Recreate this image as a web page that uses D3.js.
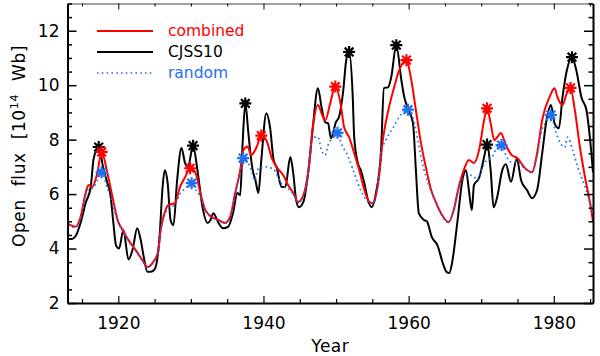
<!DOCTYPE html>
<html><head><meta charset="utf-8">
<script src="https://cdn.jsdelivr.net/npm/d3@7"></script>
<style>html,body{margin:0;padding:0;background:#fff;}svg{display:block;font-family:"DejaVu Sans",sans-serif;}</style>
</head><body><svg id="c" width="600" height="356"></svg>
<script>
// ---- data ----
const cjssYears = [1913.0,1913.6,1914.1,1914.8,1915.5,1916.2,1916.6,1917.3,1917.9,1918.5,1918.9,1919.3,1919.7,1920.1,1920.7,1921.4,1922.0,1922.6,1923.1,1923.5,1924.0,1924.5,1924.9,1925.3,1925.7,1926.1,1926.4,1926.8,1927.2,1927.6,1928.1,1928.7,1929.2,1929.6,1930.3,1930.9,1931.6,1932.3,1932.7,1933.1,1933.8,1934.4,1935.1,1935.8,1936.4,1936.8,1937.1,1937.5,1937.9,1938.2,1938.5,1938.9,1939.3,1939.7,1940.4,1940.9,1941.4,1941.8,1942.5,1943.0,1943.7,1944.1,1944.5,1944.9,1945.5,1946.2,1946.8,1947.5,1948.0,1948.5,1948.9,1949.3,1950.0,1950.4,1951.0,1951.4,1951.8,1952.3,1952.5,1953.0,1953.4,1953.9,1954.4,1954.9,1955.5,1956.2,1956.6,1957.2,1957.6,1958.3,1959.0,1959.4,1960.0,1960.6,1961.0,1961.4,1962.1,1962.5,1963.2,1964.0,1964.7,1965.2,1965.6,1966.0,1966.7,1967.4,1967.9,1968.3,1968.7,1969.0,1969.7,1970.4,1970.8,1971.3,1971.7,1972.2,1972.9,1973.4,1974.1,1974.9,1975.5,1976.3,1977.0,1977.7,1978.4,1979.0,1979.6,1980.1,1980.7,1981.2,1981.8,1982.5,1983.1,1983.8,1984.5,1985.0,1985.4];
const cjssValues = [4.35,4.35,4.45,4.94,5.67,6.26,7.3,7.73,7.0,6.4,6.0,5.0,4.1,4.0,4.68,3.6,4.0,4.75,4.3,3.7,3.15,3.15,3.2,3.5,4.5,6.26,6.88,6.4,5.05,4.86,6.5,7.69,7.14,6.99,7.78,6.88,5.52,4.94,5.05,5.3,4.94,4.75,4.79,5.3,6.04,5.96,7.72,9.33,8.3,7.5,6.9,6.5,6.04,7.25,8.97,8.46,7.25,6.99,6.26,6.26,7.36,6.77,5.78,5.52,5.71,6.88,8.46,9.89,9.19,8.64,8.6,8.05,8.65,8.83,9.82,10.92,11.22,9.56,8.09,7.14,6.88,6.4,5.78,5.52,6.04,7.61,9.89,9.93,10.29,11.47,10.18,9.56,9.08,8.6,6.88,5.3,5.05,5.0,4.42,4.1,3.47,3.15,3.1,3.5,4.94,6.51,6.88,6.15,5.41,6.33,6.59,7.36,7.82,6.88,5.52,5.89,6.88,7.1,6.45,7.3,6.5,6.15,5.85,6.15,7.5,8.72,9.27,8.6,8.42,9.56,10.55,11.03,10.55,9.56,9.08,8.0,6.8];

const combYears = [1913.0,1913.5,1914.1,1914.8,1915.5,1915.9,1916.4,1917.1,1917.7,1918.5,1919.2,1919.9,1920.6,1921.4,1922.4,1923.3,1924.0,1924.8,1925.5,1925.8,1926.5,1926.9,1927.8,1928.5,1929.2,1929.9,1930.6,1931.3,1932.0,1932.9,1933.8,1934.7,1935.4,1936.1,1936.8,1937.2,1937.8,1938.3,1939.0,1939.7,1940.4,1941.1,1941.8,1942.7,1943.4,1944.1,1944.8,1945.5,1946.2,1946.8,1947.5,1948.0,1948.5,1949.2,1949.9,1950.7,1951.1,1951.8,1952.5,1953.2,1953.9,1954.6,1955.1,1955.8,1956.5,1957.2,1957.9,1958.7,1959.7,1960.3,1961.0,1961.7,1962.4,1963.1,1963.8,1964.6,1965.5,1966.2,1966.9,1967.6,1968.3,1969.0,1969.7,1970.4,1970.8,1971.3,1971.8,1972.2,1972.7,1973.4,1974.2,1975.0,1975.9,1977.0,1977.7,1978.4,1979.4,1980.1,1980.5,1981.2,1981.8,1982.3,1982.9,1983.6,1984.3,1985.0,1985.4];
const combValues = [4.9,4.85,4.8,5.16,6.04,6.33,6.26,6.77,7.55,6.77,5.89,5.05,4.68,4.31,3.94,3.58,3.32,3.5,3.9,4.6,5.41,5.6,5.67,6.26,6.62,6.95,6.8,6.04,5.41,5.16,5.05,4.94,5.16,6.04,6.88,7.6,7.75,7.43,7.69,8.15,7.98,7.36,6.99,6.7,6.33,6.04,5.71,5.96,6.88,8.46,9.27,8.97,8.7,9.34,9.95,9.19,8.46,8.09,7.5,6.88,6.15,5.71,5.67,6.4,8.09,9.08,9.82,10.55,10.92,10.29,9.08,7.87,6.95,6.15,5.67,5.23,4.97,5.41,6.26,6.88,7.25,7.14,7.61,8.72,9.15,8.6,7.98,8.09,8.24,7.8,7.43,7.32,6.99,6.8,7.5,8.72,9.56,9.89,9.56,9.27,9.71,9.9,9.08,7.72,6.62,5.67,5.0];

const randYears = [1913.0,1913.5,1914.1,1914.8,1915.5,1915.9,1916.4,1917.1,1917.7,1918.5,1919.2,1919.9,1920.6,1921.4,1922.4,1923.3,1924.0,1924.8,1925.5,1925.8,1926.5,1926.9,1927.8,1928.5,1929.2,1930.1,1930.8,1931.3,1932.0,1932.9,1933.8,1934.7,1935.4,1936.1,1936.8,1937.2,1937.8,1938.3,1938.8,1939.2,1939.6,1940.4,1941.1,1941.6,1942.0,1942.7,1943.4,1944.1,1944.8,1945.5,1946.2,1946.8,1947.5,1948.0,1948.5,1948.9,1949.6,1950.2,1950.7,1951.7,1952.5,1953.4,1954.1,1954.6,1955.1,1955.8,1956.2,1956.9,1957.9,1958.7,1959.9,1960.6,1961.0,1961.7,1962.4,1963.1,1963.8,1964.6,1965.5,1966.2,1966.9,1967.6,1968.3,1969.0,1969.4,1970.1,1970.8,1971.5,1972.2,1972.8,1973.5,1974.2,1975.0,1975.9,1977.0,1977.7,1978.4,1978.8,1979.6,1980.2,1980.9,1981.5,1981.9,1982.6,1983.3,1984.3,1985.4];
const randValues = [4.85,4.8,4.78,5.1,5.95,6.2,6.2,6.5,6.8,6.2,5.67,5.0,4.65,4.28,3.9,3.55,3.3,3.5,3.9,4.55,5.3,5.5,5.6,6.0,6.2,6.4,6.1,5.9,5.38,5.14,5.03,4.92,5.14,6.0,6.85,7.32,7.2,6.9,6.5,6.9,7.0,7.0,6.95,6.85,6.62,6.3,6.2,6.0,5.7,5.93,6.8,8.09,8.09,7.61,7.43,7.8,8.09,8.25,7.87,7.36,6.77,6.15,5.8,5.68,5.65,6.4,7.5,8.0,8.46,8.83,9.1,8.79,8.35,7.36,6.62,6.1,5.65,5.2,4.95,5.4,6.2,6.6,6.7,6.65,6.51,6.95,7.25,7.36,7.72,7.8,7.36,7.17,7.2,6.95,6.78,7.45,8.4,8.6,8.9,8.35,7.87,7.72,8.09,7.61,6.99,6.26,5.3];

const cjssStarYears = [1917.3,1930.3,1937.5,1951.8,1958.3,1970.8,1982.5];
const cjssStarValues = [7.73,7.78,9.33,11.22,11.47,7.82,11.03];
const combStarYears = [1917.7,1929.9,1939.7,1949.9,1959.7,1970.8,1982.3];
const combStarValues = [7.55,6.95,8.15,9.95,10.92,9.15,9.9];
const randStarYears = [1917.7,1930.1,1937.2,1950.2,1959.9,1972.8,1979.6];
const randStarValues = [6.8,6.4,7.32,8.25,9.1,7.8,8.9];

const xMajorTicks = [1920,1940,1960,1980];
const xMinorTicks = [1915,1925,1930,1935,1945,1950,1955,1965,1970,1975,1985];
const yMajorTicks = [2,4,6,8,10,12];

const legendLabels = ["combined","CJSS10","random"];

// ---- drawing ----
const RED = "#ff0000", BLUE = "#1f6fef", BLACK = "#000";
const L = 67.5, R = 593, T = 3.5, B = 303;
const svg = d3.select("#c");
const x = d3.scaleLinear().domain([1913, 1985.4]).range([L, R]);
const y = d3.scaleLinear().domain([2, 13]).range([B, T]);

svg.append("defs").append("clipPath").attr("id","clip")
  .append("rect").attr("x",L).attr("y",T).attr("width",R-L).attr("height",B-T);

const line = d3.line().x(d=>x(d[0])).y(d=>y(d[1])).curve(d3.curveMonotoneX);
const zip = (a,b)=>a.map((v,i)=>[v,b[i]]);

const g = svg.append("g").attr("clip-path","url(#clip)");
g.append("path").datum(zip(cjssYears,cjssValues)).attr("d",line)
  .attr("fill","none").attr("stroke",BLACK).attr("stroke-width",2).attr("stroke-linejoin","round");
g.append("path").datum(zip(combYears,combValues)).attr("d",line)
  .attr("fill","none").attr("stroke",RED).attr("stroke-width",2).attr("stroke-linejoin","round");
g.append("path").datum(zip(randYears,randValues)).attr("d",line)
  .attr("fill","none").attr("stroke",BLUE).attr("stroke-width",1.7).attr("stroke-dasharray","1.6,3.2");

function stars(ys, vs, color){
  const r = 6, d = r*0.72;
  const p = `M${-r},0L${r},0M0,${-r}L0,${r}M${-d},${-d}L${d},${d}M${-d},${d}L${d},${-d}`;
  svg.append("g").selectAll("path").data(zip(ys,vs)).join("path")
    .attr("transform",v=>`translate(${x(v[0])},${y(v[1])})`)
    .attr("d",p).attr("stroke",color).attr("stroke-width",2.2).attr("fill","none");
}
stars(cjssStarYears,cjssStarValues,BLACK);
stars(combStarYears,combStarValues,RED);
stars(randStarYears,randStarValues,BLUE);

// axes (IDL style, inward ticks on all sides)
const ax = svg.append("g");
const majX = 7, minX = 4, majY = 9, minY = 4.5;
const fontT = s=>s.selectAll("text").attr("font-size",17).attr("font-family","DejaVu Sans").attr("fill","#000");
ax.append("g").attr("transform",`translate(0,${B})`)
  .call(d3.axisBottom(x).tickValues(xMajorTicks).tickSizeInner(-majX).tickSizeOuter(0).tickPadding(14).tickFormat(d3.format("d")))
  .call(s=>{s.select(".domain").attr("stroke-width",2);s.selectAll("line").attr("stroke-width",1.2);fontT(s);});
ax.append("g").attr("transform",`translate(0,${B})`)
  .call(d3.axisBottom(x).tickValues(xMinorTicks).tickSizeInner(-minX).tickSizeOuter(0).tickFormat(""))
  .call(s=>{s.select(".domain").remove();s.selectAll("line").attr("stroke-width",1.2);});
ax.append("g").attr("transform",`translate(0,${T})`)
  .call(d3.axisTop(x).tickValues(xMajorTicks).tickSizeInner(-majX+1).tickSizeOuter(0).tickFormat(""))
  .call(s=>{s.select(".domain").attr("stroke-width",1).attr("stroke","#444");s.selectAll("line").attr("stroke-width",1);});
ax.append("g").attr("transform",`translate(0,${T})`)
  .call(d3.axisTop(x).tickValues(xMinorTicks).tickSizeInner(-minX+1).tickSizeOuter(0).tickFormat(""))
  .call(s=>{s.select(".domain").remove();s.selectAll("line").attr("stroke-width",1);});
const yMinor = d3.range(2,13.01,0.5).filter(v=>!yMajorTicks.includes(v));
ax.append("g").attr("transform",`translate(${L},0)`)
  .call(d3.axisLeft(y).tickValues(yMajorTicks).tickSizeInner(-majY).tickSizeOuter(0).tickPadding(8).tickFormat(d3.format("d")))
  .call(s=>{s.select(".domain").attr("stroke-width",2);s.selectAll("line").attr("stroke-width",1.5);fontT(s);});
ax.append("g").attr("transform",`translate(${L},0)`)
  .call(d3.axisLeft(y).tickValues(yMinor).tickSizeInner(-minY).tickSizeOuter(0).tickFormat(""))
  .call(s=>{s.select(".domain").remove();s.selectAll("line").attr("stroke-width",1.5);});
ax.append("g").attr("transform",`translate(${R},0)`)
  .call(d3.axisRight(y).tickValues(yMajorTicks).tickSizeInner(-majY).tickSizeOuter(0).tickFormat(""))
  .call(s=>{s.select(".domain").attr("stroke-width",2);s.selectAll("line").attr("stroke-width",1.5);});
ax.append("g").attr("transform",`translate(${R},0)`)
  .call(d3.axisRight(y).tickValues(yMinor).tickSizeInner(-minY).tickSizeOuter(0).tickFormat(""))
  .call(s=>{s.select(".domain").remove();s.selectAll("line").attr("stroke-width",1.5);});

// axis titles
svg.append("text").attr("x",(L+R)/2).attr("y",352).attr("text-anchor","middle")
  .attr("font-size",17).attr("fill","#000").attr("letter-spacing",0.5).text("Year");
const yl = svg.append("text").attr("transform","translate(25,146) rotate(-90)").attr("text-anchor","middle")
  .attr("font-size",17).attr("fill","#000").attr("word-spacing",7).attr("letter-spacing",0.6);
yl.append("tspan").text("Open flux [10");
yl.append("tspan").attr("font-size",11).attr("dy",-7).text("14");
yl.append("tspan").attr("dy",7).text(" Wb]");

// legend
const legColors = [RED, BLACK, BLUE];
const legY = [31, 52, 73];
const lg = svg.append("g");
legendLabels.forEach((t,i)=>{
  lg.append("line").attr("x1",97).attr("x2",153).attr("y1",legY[i]).attr("y2",legY[i])
    .attr("stroke",legColors[i]).attr("stroke-width",i===2?1.7:2)
    .attr("stroke-dasharray",i===2?"1.6,3.2":null);
  lg.append("text").attr("x",168).attr("y",legY[i]+5).attr("font-size",15.5)
    .attr("fill",legColors[i]).text(t);
});
</script></body></html>
